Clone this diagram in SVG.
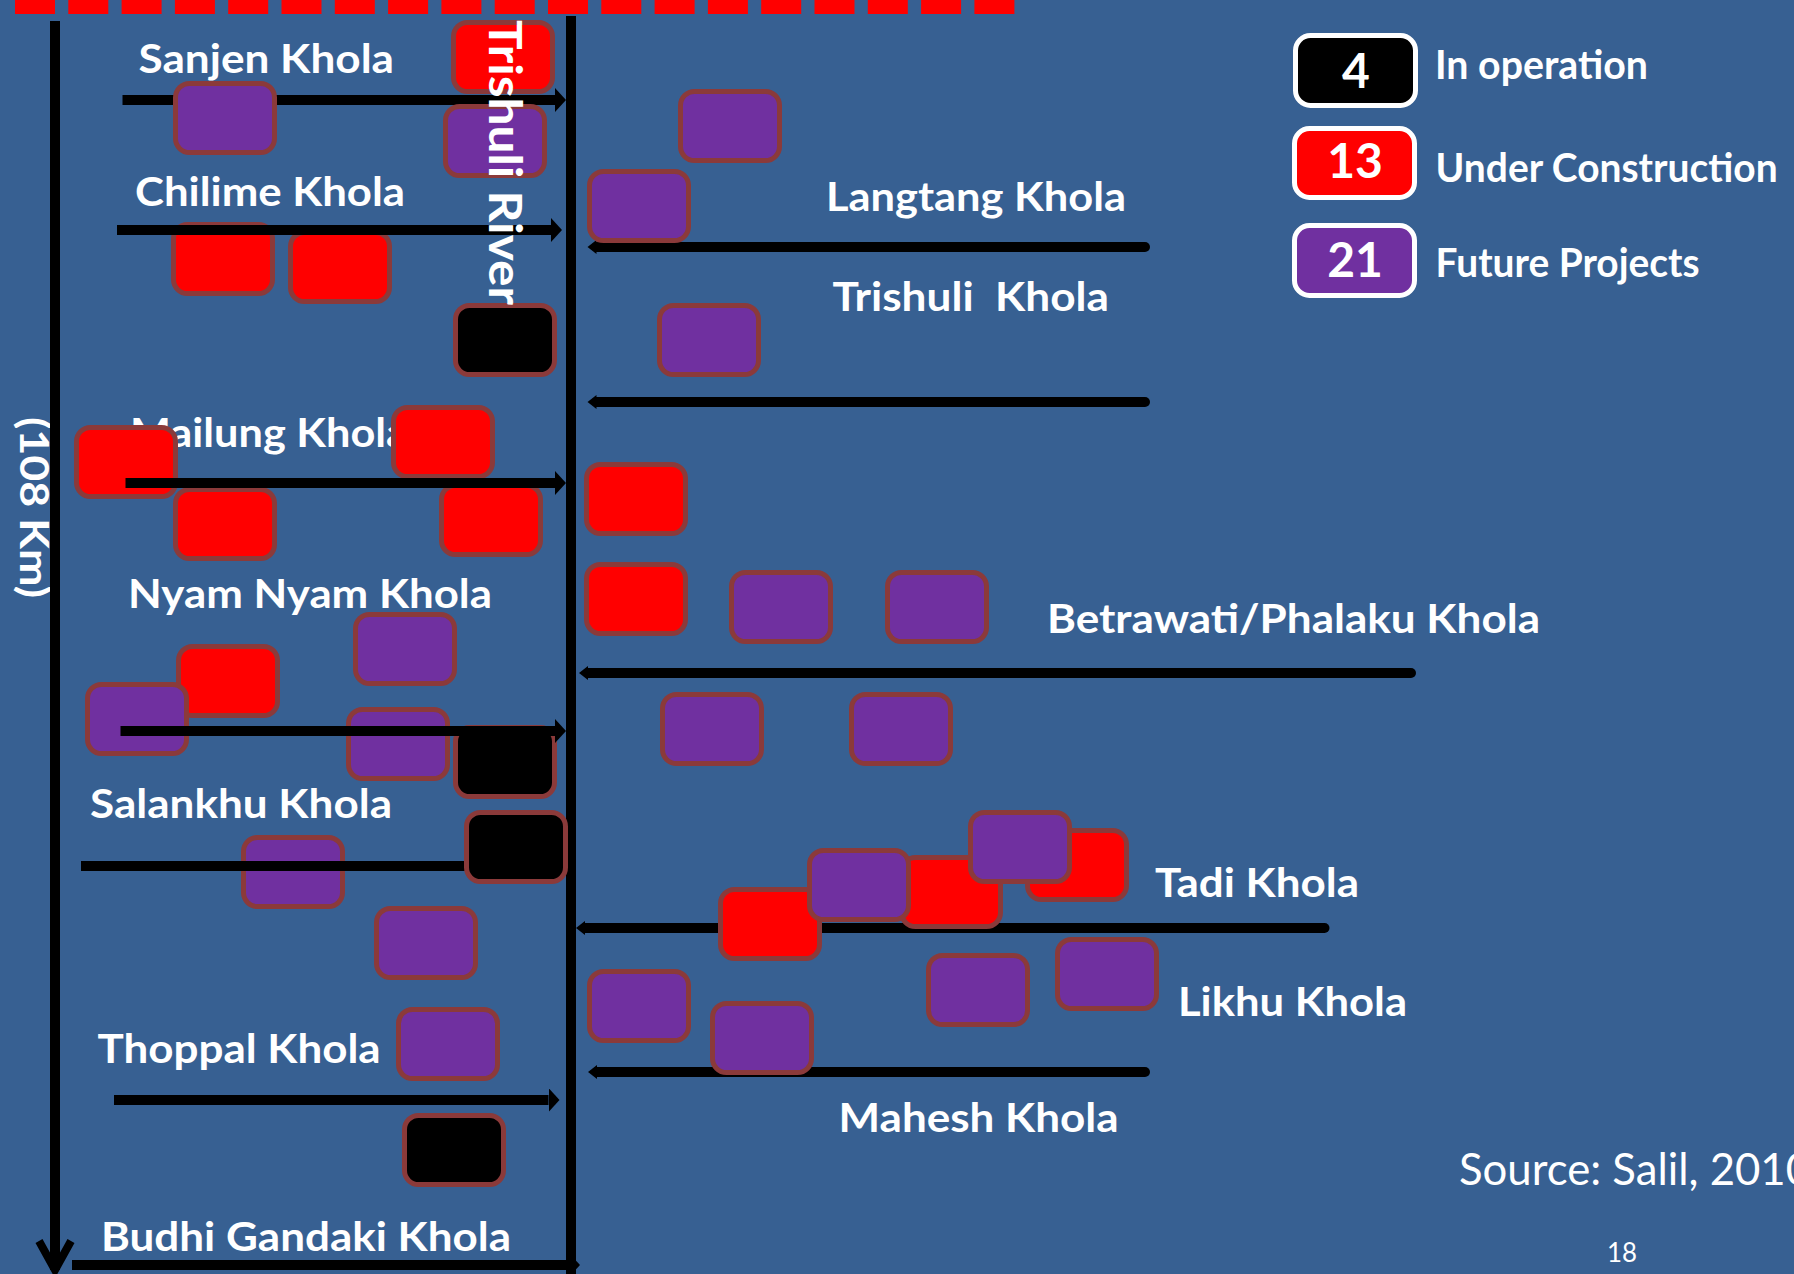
<svg xmlns="http://www.w3.org/2000/svg" xmlns:xlink="http://www.w3.org/1999/xlink" width="1794" height="1274" viewBox="0 0 1794 1274">
<defs>
<style>
.box{stroke:#8B3A3A;stroke-width:5}
.r{fill:#FF0000}.p{fill:#7030A0}.k{fill:#000000}
.lbl{font-family:Lato,'Open Sans','Liberation Sans',sans-serif;font-weight:bold;font-size:41px;fill:#FFFFFF}
.conn{stroke:#000;stroke-width:10;fill:none}
.connL{stroke:#000;stroke-width:10;fill:none;stroke-linecap:round}
.leg{stroke:#FFFFFF;stroke-width:5}
.num{font-family:Lato,'Open Sans','Liberation Sans',sans-serif;font-weight:bold;font-size:48px;fill:#FFFFFF;text-anchor:middle}
.reg{font-family:Lato,'Open Sans','Liberation Sans',sans-serif;fill:#FFFFFF}
</style>
<rect id="bR" class="box r" width="99" height="69" rx="14"/>
<rect id="bP" class="box p" width="99" height="69" rx="14"/>
<rect id="bK" class="box k" width="99" height="69" rx="14"/>
<marker id="headR" markerUnits="userSpaceOnUse" markerWidth="12" markerHeight="24" refX="0" refY="12" orient="auto"><path d="M0,0 L11,12 L0,24 z" fill="#000"/></marker>
<marker id="headL" markerUnits="userSpaceOnUse" markerWidth="10" markerHeight="14" refX="0" refY="7" orient="auto"><path d="M0,0 L9,7 L0,14 z" fill="#000"/></marker>
</defs>
<rect width="1794" height="1274" fill="#376092"/>
<line x1="15" y1="7" x2="1016" y2="7" stroke="#FF0000" stroke-width="14" stroke-dasharray="40 13.3"/>

<g id="labels">
<text class="lbl" x="138.5" y="73" textLength="255.5" lengthAdjust="spacingAndGlyphs">Sanjen Khola</text>
<text class="lbl" x="135" y="206" textLength="270" lengthAdjust="spacingAndGlyphs">Chilime Khola</text>
<text class="lbl" x="130" y="447" textLength="278" lengthAdjust="spacingAndGlyphs">Mailung Khola</text>
<text class="lbl" x="128" y="608" textLength="364" lengthAdjust="spacingAndGlyphs">Nyam Nyam Khola</text>
<text class="lbl" x="90" y="818" textLength="302" lengthAdjust="spacingAndGlyphs">Salankhu Khola</text>
<text class="lbl" x="97.6" y="1063" textLength="283" lengthAdjust="spacingAndGlyphs">Thoppal Khola</text>
<text class="lbl" x="101" y="1251" textLength="410" lengthAdjust="spacingAndGlyphs">Budhi Gandaki Khola</text>
<text class="lbl" x="826" y="211" textLength="300" lengthAdjust="spacingAndGlyphs">Langtang Khola</text>
<text class="lbl" x="832.5" y="311" textLength="276.5" lengthAdjust="spacingAndGlyphs" xml:space="preserve">Trishuli  Khola</text>
<text class="lbl" x="1047" y="633" textLength="493" lengthAdjust="spacingAndGlyphs">Betrawati/Phalaku Khola</text>
<text class="lbl" x="1155" y="897" textLength="204" lengthAdjust="spacingAndGlyphs">Tadi Khola</text>
<text class="lbl" x="1178" y="1016" textLength="229" lengthAdjust="spacingAndGlyphs">Likhu Khola</text>
<text class="lbl" x="838.6" y="1132" textLength="280" lengthAdjust="spacingAndGlyphs">Mahesh Khola</text>
<text class="lbl" transform="translate(20,417) rotate(90)" x="0" y="0" textLength="181" lengthAdjust="spacingAndGlyphs">(108 Km)</text>
</g>

<g id="nodes-under">
<g id="n-A4"><use href="#bR" x="173.5" y="224.5"/></g>
<g id="n-A5"><use href="#bR" x="290.5" y="232.5"/></g>
<g id="n-B1"><use href="#bR" x="76.5" y="427.5"/></g>
<g id="n-B2"><use href="#bR" x="393.5" y="407.5"/></g>
<g id="n-B3"><use href="#bR" x="175.5" y="489.5"/></g>
<g id="n-B4"><use href="#bR" x="441.5" y="485.5"/></g>
<g id="n-C2"><use href="#bR" x="178.5" y="646.5"/></g>
<g id="n-C3"><use href="#bP" x="87.5" y="684.5"/></g>
<g id="n-C4"><use href="#bP" x="348.5" y="709.5"/></g>
<g id="n-C5"><use href="#bK" x="455.5" y="727.5"/></g>
<g id="n-D1"><use href="#bP" x="243.5" y="837.5"/></g>
</g>

<g id="connectors">
<line class="conn" x1="55" y1="21" x2="55" y2="1270" stroke-width="8"/>
<polyline points="39,1241 55,1270 71,1241" fill="none" stroke="#000" stroke-width="8"/>
<line class="conn" x1="571" y1="16" x2="571" y2="1274"/>
<line class="conn" x1="122.5" y1="100" x2="555" y2="100" marker-end="url(#headR)"/>
<line class="conn" x1="117" y1="230" x2="551" y2="230" marker-end="url(#headR)"/>
<line class="conn" x1="125.5" y1="483" x2="555" y2="483" marker-end="url(#headR)"/>
<line class="conn" x1="120.5" y1="731" x2="555" y2="731" marker-end="url(#headR)"/>
<line class="conn" x1="81" y1="866" x2="480" y2="866"/>
<line class="conn" x1="114" y1="1100" x2="548.5" y2="1100" marker-end="url(#headR)"/>
<line class="conn" x1="72" y1="1265" x2="569" y2="1265" marker-end="url(#headR)"/>
<line class="connL" x1="1145" y1="247" x2="596.5" y2="247" marker-end="url(#headL)"/>
<line class="connL" x1="1145" y1="402" x2="596.5" y2="402" marker-end="url(#headL)"/>
<line class="connL" x1="1411" y1="673" x2="588" y2="673" marker-end="url(#headL)"/>
<line class="connL" x1="1324.5" y1="928" x2="585" y2="928" marker-end="url(#headL)"/>
<line class="connL" x1="1145" y1="1072" x2="597" y2="1072" marker-end="url(#headL)"/>
</g>

<g id="nodes-over">
<g id="n-A1"><use href="#bR" x="453.5" y="22.5"/></g>
<g id="n-A2"><use href="#bP" x="175.5" y="83.5"/></g>
<g id="n-A3"><use href="#bP" x="445.5" y="106.5"/></g>
<g id="n-A6"><use href="#bK" x="455.5" y="305.5"/></g>
<g id="n-C1"><use href="#bP" x="355.5" y="614.5"/></g>
<g id="n-D2"><use href="#bK" x="466.5" y="812.5"/></g>
<g id="n-D3"><use href="#bP" x="376.5" y="908.5"/></g>
<g id="n-E1"><use href="#bP" x="398.5" y="1009.5"/></g>
<g id="n-E2"><use href="#bK" x="404.5" y="1115.5"/></g>
<g id="n-F1"><use href="#bP" x="680.5" y="91.5"/></g>
<g id="n-F2"><use href="#bP" x="589.5" y="171.5"/></g>
<g id="n-F3"><use href="#bP" x="659.5" y="305.5"/></g>
<g id="n-G1"><use href="#bR" x="586.5" y="464.5"/></g>
<g id="n-G2"><use href="#bR" x="586.5" y="564.5"/></g>
<g id="n-G3"><use href="#bP" x="731.5" y="572.5"/></g>
<g id="n-G4"><use href="#bP" x="887.5" y="572.5"/></g>
<g id="n-G5"><use href="#bP" x="662.5" y="694.5"/></g>
<g id="n-G6"><use href="#bP" x="851.5" y="694.5"/></g>
<g id="n-H1"><use href="#bR" x="720.5" y="889.5"/></g>
<g id="n-H2"><use href="#bR" x="901.5" y="857.5"/></g>
<g id="n-H3"><use href="#bR" x="1027.5" y="830.5"/></g>
<g id="n-H4"><use href="#bP" x="809.5" y="850.5"/></g>
<g id="n-H5"><use href="#bP" x="970.5" y="812.5"/></g>
<g id="n-I1"><use href="#bP" x="589.5" y="971.5"/></g>
<g id="n-I2"><use href="#bP" x="712.5" y="1003.5"/></g>
<g id="n-I3"><use href="#bP" x="928.5" y="955.5"/></g>
<g id="n-I4"><use href="#bP" x="1057.5" y="939.5"/></g>
</g>

<g id="river-label">
<text class="lbl" style="font-size:46px" transform="translate(489,20) rotate(90)" x="0" y="0" textLength="285" lengthAdjust="spacingAndGlyphs">Trishuli River</text>
</g>

<g id="legend">
<g id="leg-operation">
<rect class="leg k" x="1295.5" y="35.5" width="120" height="70" rx="15"/>
<text class="num" x="1356" y="88">4</text>
<text class="lbl" x="1435" y="79" textLength="213" lengthAdjust="spacingAndGlyphs">In operation</text>
</g>
<g id="leg-construction">
<rect class="leg r" x="1294.5" y="128.5" width="120" height="69" rx="15"/>
<text class="num" x="1355" y="178">13</text>
<text class="lbl" x="1435.6" y="182" textLength="342" lengthAdjust="spacingAndGlyphs">Under Construction</text>
</g>
<g id="leg-future">
<rect class="leg p" x="1294.5" y="225.5" width="120" height="70" rx="15"/>
<text class="num" x="1355" y="277">21</text>
<text class="lbl" x="1435.6" y="277" textLength="264" lengthAdjust="spacingAndGlyphs">Future Projects</text>
</g>
</g>

<text class="reg" x="1459" y="1185" font-size="44" textLength="352" lengthAdjust="spacingAndGlyphs">Source: Salil, 2010</text>
<text class="reg" x="1607" y="1262" font-size="26" textLength="30" lengthAdjust="spacingAndGlyphs">18</text>
</svg>
